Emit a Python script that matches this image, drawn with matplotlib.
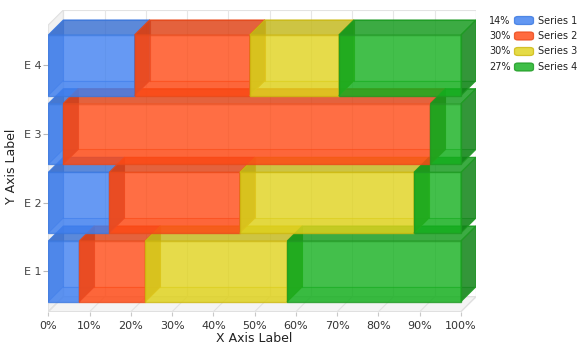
import matplotlib
matplotlib.use("Agg")
import matplotlib.pyplot as plt
from matplotlib.patches import Polygon, FancyBboxPatch, Rectangle
from matplotlib.colors import to_rgb
import numpy as np

# ---------------- data ----------------
categories = ["E 1", "E 2", "E 3", "E 4"]
series_names = ["Series 1", "Series 2", "Series 3", "Series 4"]
series1 = [7.5, 14.8, 3.6, 20.9]
series2 = [16.0, 31.6, 89.0, 27.9]
series3 = [34.4, 42.2, 0.0, 21.6]
series4 = [42.1, 11.4, 7.4, 29.6]
legend_pct = ["14%", "30%", "30%", "27%"]
x_ticks = [0, 10, 20, 30, 40, 50, 60, 70, 80, 90, 100]
x_tick_labels = [f"{t}%" for t in x_ticks]

# ---------------- style ----------------
base_colors = ["#4080F0", "#FF4A15", "#E0D31D", "#14B01E"]
edge_colors = ["#3A78E0", "#EA4A1A", "#CDB810", "#1E9A22"]

W, H = 585, 352
fig = plt.figure(figsize=(W / 100, H / 100), dpi=100)

px_left, px_right = 48.3, 476.0
px_top, px_bottom = 10.0, 311.7
ax = fig.add_axes([px_left / W, 1 - px_bottom / H, (px_right - px_left) / W, (px_bottom - px_top) / H])

dx = 3.64          # depth in x (% units)
dy = 0.218         # depth in y (category units)
bar_h = 0.884
ymin, ymax = -0.588, 3.805
ax.set_xlim(0, 100 + dx)
ax.set_ylim(ymin, ymax)
for s in ax.spines.values():
    s.set_visible(False)
ax.set_facecolor("none")

# ---------- walls ----------
ax.add_patch(Rectangle((dx, ymin + dy), 100, ymax - ymin - dy, facecolor="white",
                       edgecolor="#E3E3E3", lw=0.8, zorder=0))
for t in x_ticks:
    ax.plot([t + dx, t + dx], [ymin + dy, ymax], color="#E6E6E6", lw=0.8, zorder=0.5)
ax.add_patch(Polygon([(0, ymin), (dx, ymin + dy), (dx, ymax), (0, ymax - dy)], closed=True,
                     facecolor="#F1F1F1", edgecolor="#E0E0E0", lw=0.8, zorder=0.6))
ax.add_patch(Polygon([(0, ymin), (100, ymin), (100 + dx, ymin + dy), (dx, ymin + dy)], closed=True,
                     facecolor="#F4F4F4", edgecolor="#DDDDDD", lw=0.8, zorder=0.6))
for t in x_ticks:
    ax.plot([t, t + dx], [ymin, ymin + dy], color="#E2E2E2", lw=0.8, zorder=0.7)


def shade(c, f):
    r, g, b = to_rgb(c)
    return (r * f, g * f, b * f)


def draw_box(x0, x1, yc, color, ecol, z):
    y0, y1 = yc - bar_h / 2, yc + bar_h / 2
    # hidden back edges
    ax.plot([x0 + dx, x1 + dx, x1 + dx, x0 + dx, x0 + dx],
            [y0 + dy, y0 + dy, y1 + dy, y1 + dy, y0 + dy], color=ecol, lw=0.8, alpha=0.6, zorder=z)
    ax.plot([x0, x0 + dx], [y0, y0 + dy], color=ecol, lw=0.8, alpha=0.5, zorder=z)
    # bottom face (seen through the front)
    ax.add_patch(Polygon([(x0, y0), (x1, y0), (x1 + dx, y0 + dy), (x0 + dx, y0 + dy)], closed=True,
                         facecolor=shade(ecol, 0.95), edgecolor="none", alpha=0.22, zorder=z + 0.05))
    # left face
    ax.add_patch(Polygon([(x0, y0), (x0 + dx, y0 + dy), (x0 + dx, y1 + dy), (x0, y1)], closed=True,
                         facecolor=shade(color, 0.80), edgecolor="none", alpha=0.55, zorder=z + 0.1))
    # right face
    ax.add_patch(Polygon([(x1, y0), (x1 + dx, y0 + dy), (x1 + dx, y1 + dy), (x1, y1)], closed=True,
                         facecolor=shade(color, 0.75), edgecolor=ecol, lw=0.8, alpha=0.85, zorder=z + 0.2))
    # top face
    ax.add_patch(Polygon([(x0, y1), (x1, y1), (x1 + dx, y1 + dy), (x0 + dx, y1 + dy)], closed=True,
                         facecolor=shade(color, 0.87), edgecolor=ecol, lw=0.8, alpha=0.82, zorder=z + 0.2))
    # front face
    ax.add_patch(Rectangle((x0, y0), x1 - x0, y1 - y0, facecolor=color, edgecolor=ecol,
                           lw=1.0, alpha=0.8, zorder=z + 0.3))


all_series = [series1, series2, series3, series4]
for ci in range(len(categories)):
    left = 0.0
    for si, vals in enumerate(all_series):
        v = vals[ci]
        if v > 0:
            draw_box(left, left + v, ci, base_colors[si], edge_colors[si], 2 + ci * 2 + si * 0.4)
        left += v

# ---------- ticks ----------
ax.set_xticks(x_ticks)
ax.set_xticklabels(x_tick_labels)
ax.set_yticks(range(len(categories)))
ax.set_yticklabels(categories)
ax.tick_params(axis="x", length=3, width=0.8, color="#C8C8C8", pad=3.5, labelsize=8, labelcolor="#333333")
ax.tick_params(axis="y", length=3.6, width=0.8, color="#B8B8B8", pad=1.2, labelsize=8, labelcolor="#444444")

fig.text(254 / W, 1 - 339 / H, "X Axis Label", ha="center", va="center", fontsize=9, color="#222222")
fig.text(12 / W, 1 - 166 / H, "Y Axis Label", ha="center", va="center", fontsize=9, color="#222222",
         rotation=90)

# ---------- legend ----------
row_y = [20.5, 36, 51.5, 67]
for i in range(4):
    yf = 1 - row_y[i] / H
    fig.text(510.5 / W, yf, legend_pct[i], ha="right", va="center", fontsize=7, color="#222222")
    fig.patches.append(FancyBboxPatch((514.5 / W, 1 - (row_y[i] + 4.0) / H), 19 / W, 8.0 / H,
                                      boxstyle="round,pad=0,rounding_size=0.006",
                                      transform=fig.transFigure, facecolor=base_colors[i],
                                      edgecolor=edge_colors[i], lw=0.9, alpha=0.82))
    fig.text(538 / W, yf, series_names[i], ha="left", va="center", fontsize=7, color="#222222")

fig.savefig("out.png", dpi=100)
